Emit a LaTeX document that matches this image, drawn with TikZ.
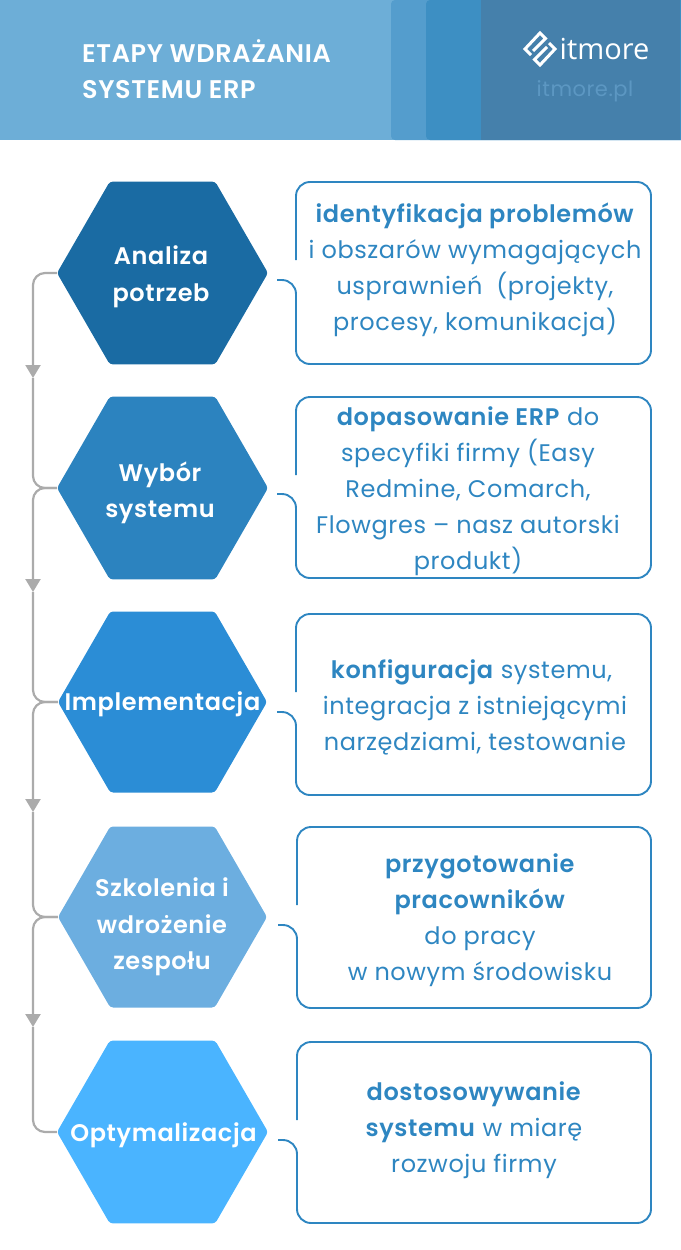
\documentclass[tikz,border=0pt]{standalone}
\usepackage{fontspec}
\setmainfont{Poppins}[LetterSpace=2.5,BoldFont={Poppins SemiBold}]
\newfontfamily\logofont{Open Sans}
\usetikzlibrary{shapes.geometric,arrows.meta}
\definecolor{headA}{HTML}{6DAED7}
\definecolor{headB}{HTML}{549DCD}
\definecolor{headC}{HTML}{3D8FC3}
\definecolor{headD}{HTML}{4580AB}
\definecolor{siteblue}{HTML}{5C97C2}
\definecolor{hexA}{HTML}{1A6BA3}
\definecolor{hexB}{HTML}{2C83BF}
\definecolor{hexC}{HTML}{2B8DD6}
\definecolor{hexD}{HTML}{6CAEE0}
\definecolor{hexE}{HTML}{4AB4FF}
\definecolor{boxblue}{HTML}{2E86C1}
\definecolor{flowgray}{HTML}{ABABAB}
\tikzset{
	hexnode/.style={regular polygon,regular polygon sides=6,minimum size=211pt,inner sep=0pt,rounded corners=3pt},
	hextext/.style={text=white,align=center,inner sep=0pt,font=\fontsize{24}{36.5}\selectfont\bfseries},
	infotext/.style={text=boxblue,align=center,inner sep=0pt,font=\fontsize{24}{36}\selectfont},
	boxline/.style={draw=boxblue,line width=1.9pt,rounded corners=14pt},
	flowline/.style={draw=flowgray,line width=2.2pt,rounded corners=12pt},
	flowtip/.style={-{Triangle[width=15pt,length=13pt]}},
	logoline/.style={draw=white,line width=3pt}
}
\begin{document}
\begin{tikzpicture}[x=1pt,y=-1pt]
	\useasboundingbox (0,0) rectangle (680,1250);

	% header
	\fill[headA] (0,0) rectangle (680,140);
	\fill[headB,rounded corners=4pt] (391,0) rectangle (700,140);
	\fill[headC,rounded corners=4pt] (426,0) rectangle (700,140);
	\fill[headD] (481,0) rectangle (680,140);
	\node[text=white,align=left,anchor=west,inner sep=0pt,font=\fontsize{25.5}{36}\selectfont\bfseries] (title) at (82,69)
		{ETAPY WDRAŻANIA\\SYSTEMU ERP};
	\draw[logoline] (533,51) -- (545.5,38.5) -- (540,33) -- (525,49) -- (531,55);
	\draw[logoline] (547,47) -- (534.5,59.5) -- (540,65) -- (555,49) -- (549,43);
	\node[text=white,inner sep=0pt,font=\logofont\fontsize{29}{29}\selectfont] (logoname) at (604.5,49) {itmore};
	\node[text=siteblue,inner sep=0pt,font=\fontsize{21}{21}\selectfont] (site) at (585,91.5) {itmore.pl};

	% hexagons
	\node[hexnode,fill=hexA] (hexanaliza) at (162.5,273) {};
	\node[hexnode,fill=hexB] (hexwybor) at (162.5,488) {};
	\node[hexnode,fill=hexC,minimum size=209pt] (heximpl) at (162.5,702) {};
	\node[hexnode,fill=hexD,minimum size=209pt] (hexszkol) at (162.5,917) {};
	\node[hexnode,fill=hexE] (hexoptym) at (162.5,1132) {};
	\node[hextext] (analiza) at (161,277) {Analiza\\potrzeb};
	\node[hextext] (wybor) at (160,493) {Wybór\\systemu};
	\node[hextext] (impl) at (162.5,704) {Implementacja};
	\node[hextext] (szkol) at (162,927) {Szkolenia i\\wdrożenie\\zespołu};
	\node[hextext] (optym) at (163.5,1135) {Optymalizacja};

	% flow on the left
	\coordinate (tipA) at (33,378);
	\coordinate (tipB) at (33,592);
	\coordinate (tipC) at (33,812);
	\coordinate (tipD) at (33,1027);
	\draw[flowline,flowtip] (hexanaliza.west) -- (33,273) -- (tipA);
	\draw[flowline] (tipA) -- (33,488) -- (hexwybor.west);
	\draw[flowline,flowtip] (hexwybor.west) -- (33,488) -- (tipB);
	\draw[flowline] (tipB) -- (33,702) -- (heximpl.west);
	\draw[flowline,flowtip] (heximpl.west) -- (33,702) -- (tipC);
	\draw[flowline] (tipC) -- (33,917) -- (hexszkol.west);
	\draw[flowline,flowtip] (hexszkol.west) -- (33,917) -- (tipD);
	\draw[flowline] (tipD) -- (33,1132) -- (hexoptym.west);

	% boxes on the right
	\draw[boxline] (296,260) |- (651,182) |- (296,364) |- (277,280);
	\draw[boxline] (296,475) |- (651,397) |- (296,578) |- (277,494);
	\draw[boxline] (296,692) |- (651,614) |- (296,795) |- (277,712);
	\draw[boxline] (297,905) |- (651,827) |- (297,1008) |- (278,925);
	\draw[boxline] (297,1120) |- (651,1042) |- (297,1223) |- (278,1140);

	\node[infotext] (textA) at (475,270) {\textbf{identyfikacja problemów}\\i obszarów wymagających\\usprawnień~ (projekty,\\procesy, komunikacja)};
	\node[infotext] (textB) at (468,491) {\textbf{dopasowanie ERP} do\\specyfiki firmy (Easy\\Redmine, Comarch,\\Flowgres – nasz autorski\\produkt)};
	\node[infotext] (textC) at (475,707) {\textbf{konfiguracja} systemu,\hspace*{7pt}\\integracja z istniejącymi\\narzędziami, testowanie};
	\node[infotext] (textD) at (480,920) {\textbf{przygotowanie}\\\textbf{pracowników}\\do pracy\\w nowym środowisku};
	\node[infotext] (textE) at (474,1130) {\textbf{dostosowywanie}\\\textbf{systemu} w miarę\\rozwoju firmy};
\end{tikzpicture}
\end{document}
